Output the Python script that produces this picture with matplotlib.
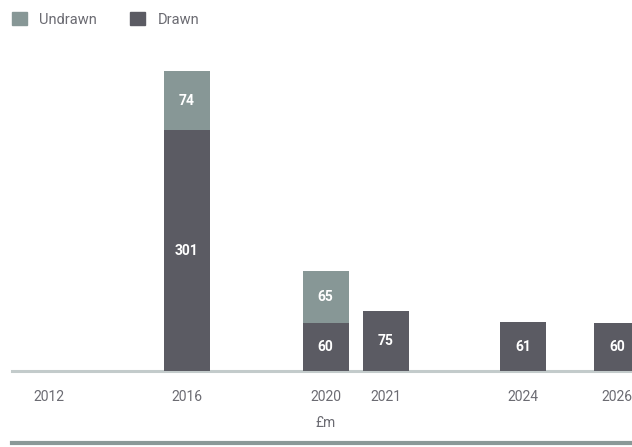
import matplotlib
matplotlib.use("Agg")
import matplotlib.pyplot as plt
from matplotlib.patches import Patch
from matplotlib.lines import Line2D

# ---- data ----
years = ["2012", "2016", "2020", "2021", "2024", "2026"]
drawn = [0, 301, 60, 75, 61, 60]
undrawn = [0, 74, 65, 0, 0, 0]
unit_label = "£m"

# ---- layout (slot positions) ----
x_pos = [0, 2, 4.01, 4.88, 6.87, 8.23]
bar_w = 0.667

c_drawn = "#5b5b63"
c_undrawn = "#879796"
c_base = "#c3cbcb"
c_bottom = "#8a9998"
c_text = "#6b6b72"

plt.rcParams['font.family'] = ['Roboto', 'DejaVu Sans']

W, H = 632, 447
fig = plt.figure(figsize=(W / 100, H / 100), dpi=100)
base_px = 371
ax = fig.add_axes([12 / W, (H - base_px) / H, 1 - 12 / W, base_px / H])
ax.set_xlim(-0.536, 8.449)
ax.set_ylim(0, base_px / 0.8)
for s in ax.spines.values():
    s.set_visible(False)
ax.set_yticks([])

for x, d, u in zip(x_pos, drawn, undrawn):
    if d > 0:
        ax.bar(x, d, width=bar_w, color=c_drawn, zorder=2)
        ax.text(x, d / 2, str(d), ha="center", va="center", color="white",
                fontsize=10, fontweight="semibold", zorder=3)
    if u > 0:
        ax.bar(x, u, bottom=d, width=bar_w, color=c_undrawn, zorder=2)
        ax.text(x, d + u / 2, str(u), ha="center", va="center", color="white",
                fontsize=10, fontweight="semibold", zorder=3)

ax.axhline(0, color=c_base, lw=2.2, zorder=1, clip_on=False)
ax.set_xticks(x_pos)
ax.set_xticklabels(years, color=c_text, fontsize=10)
ax.tick_params(axis="x", length=0, pad=14)

fig.text(326 / W, 1 - 423 / H, unit_label, ha="center", va="center",
         color=c_text, fontsize=10)
fig.add_artist(Line2D([12 / W, 1], [1 - 443 / H, 1 - 443 / H],
                      transform=fig.transFigure, color=c_bottom, lw=3))

handles = [Patch(color=c_undrawn, label="Undrawn"),
           Patch(color=c_drawn, label="Drawn")]
leg = fig.legend(handles=handles, loc="upper left",
                 bbox_to_anchor=(12 / W, 1 - 12 / H), ncol=2, frameon=False,
                 borderpad=0, borderaxespad=0,
                 handlelength=1.0, handleheight=1.0, handletextpad=0.85,
                 columnspacing=2.3, fontsize=10.5)
for t in leg.get_texts():
    t.set_color(c_text)

fig.savefig("out.png", dpi=100)
